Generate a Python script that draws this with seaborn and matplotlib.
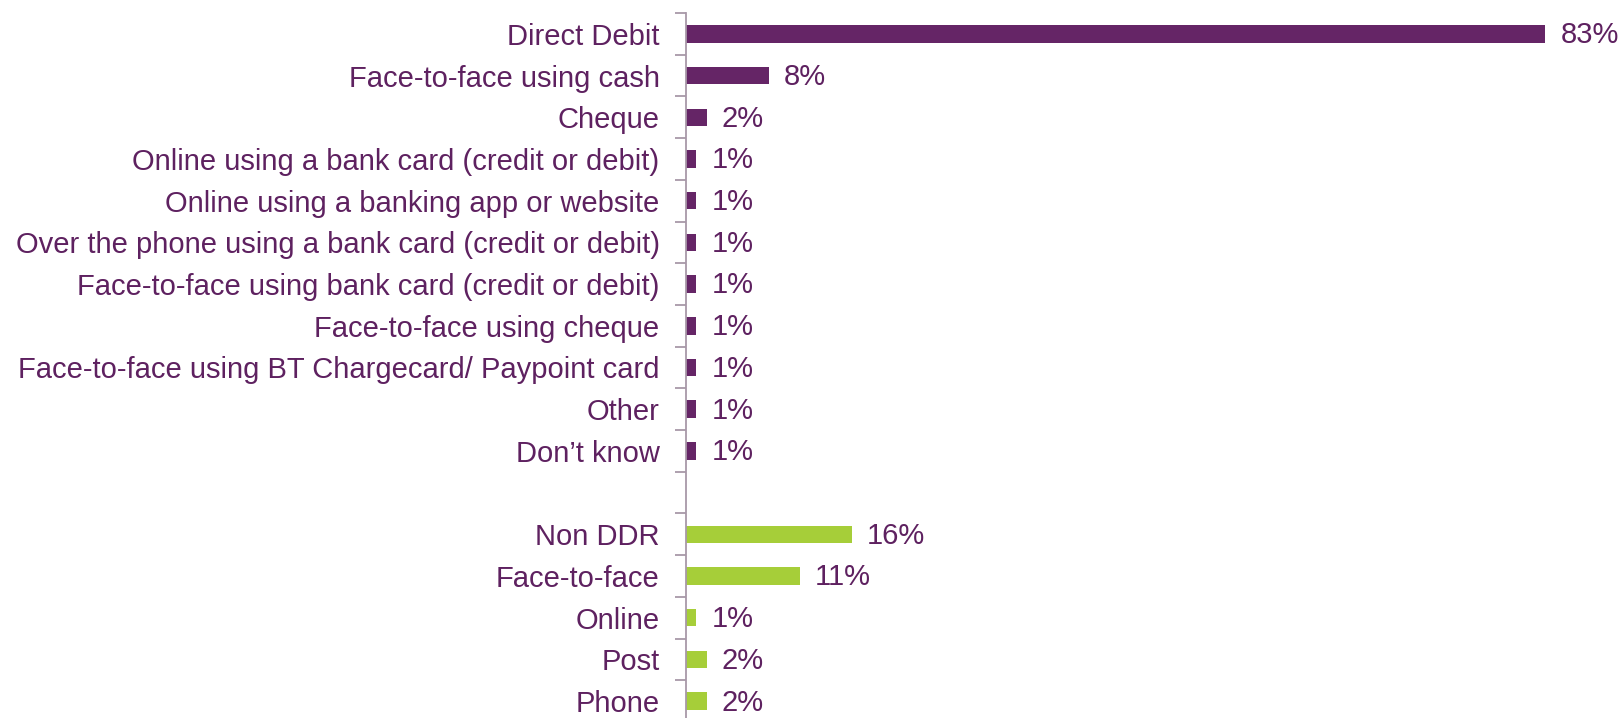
import matplotlib
matplotlib.use("Agg")
import matplotlib.pyplot as plt
import seaborn as sns
import pandas as pd
from matplotlib.ticker import FixedLocator

# Payment methods (purple group) and channels (green group)
methods = [
    "Direct Debit",
    "Face-to-face using cash",
    "Cheque",
    "Online using a bank card (credit or debit)",
    "Online using a banking app or website",
    "Over the phone using a bank card (credit or debit)",
    "Face-to-face using bank card (credit or debit)",
    "Face-to-face using cheque",
    "Face-to-face using BT Chargecard/ Paypoint card",
    "Other",
    "Don\u2019t know",
]
method_values = [83, 8, 2, 1, 1, 1, 1, 1, 1, 1, 1]

channels = ["Non DDR", "Face-to-face", "Online", "Post", "Phone"]
channel_values = [16, 11, 1, 2, 2]

PURPLE = "#652566"
GREEN = "#A6CE39"
TEXT = "#5E2160"
SPINE = "#A898A8"

df = pd.DataFrame({
    "category": methods + channels,
    "value": method_values + channel_values,
    "group": ["method"] * len(methods) + ["channel"] * len(channels),
})
order = methods + [" "] + channels  # blank slot separates the two groups

sns.set_theme(style="white")
plt.rcParams["font.family"] = ["Liberation Sans", "DejaVu Sans"]

fig = plt.figure(figsize=(16.23, 7.18), dpi=100)
ax = fig.add_axes([686 / 1623, 1 - 722 / 718, 1 - 686 / 1623, (722 - 13) / 718])

sns.barplot(data=df, y="category", x="value", hue="group", order=order,
            palette={"method": PURPLE, "channel": GREEN}, dodge=False,
            width=0.42, saturation=1, linewidth=0, legend=False, ax=ax,
            orient="h")

ax.set_xlim(0, (1623 - 686) / 10.35)
ax.set_ylim(len(order) - 0.5, -0.5)

# value labels at the end of each bar
for cat, val in zip(df["category"], df["value"]):
    ypos = order.index(cat)
    ax.annotate(f"{val}%", xy=(val, ypos), xytext=(11, -1),
                textcoords="offset points", va="center", ha="left",
                fontsize=21, color=TEXT)

ax.set_xlabel("")
ax.set_ylabel("")
ax.xaxis.set_visible(False)
for s in ["top", "right", "bottom"]:
    ax.spines[s].set_visible(False)
ax.spines["left"].set_color(SPINE)
ax.spines["left"].set_linewidth(1.3)

ax.tick_params(axis="y", which="major", length=0, pad=19,
               labelsize=21, labelcolor=TEXT)
ax.yaxis.set_minor_locator(FixedLocator([i - 0.5 for i in range(len(order) + 1)]))
ax.tick_params(axis="y", which="minor", length=8, width=1.3, color=SPINE, left=True)

fig.savefig("out.png", dpi=100)
